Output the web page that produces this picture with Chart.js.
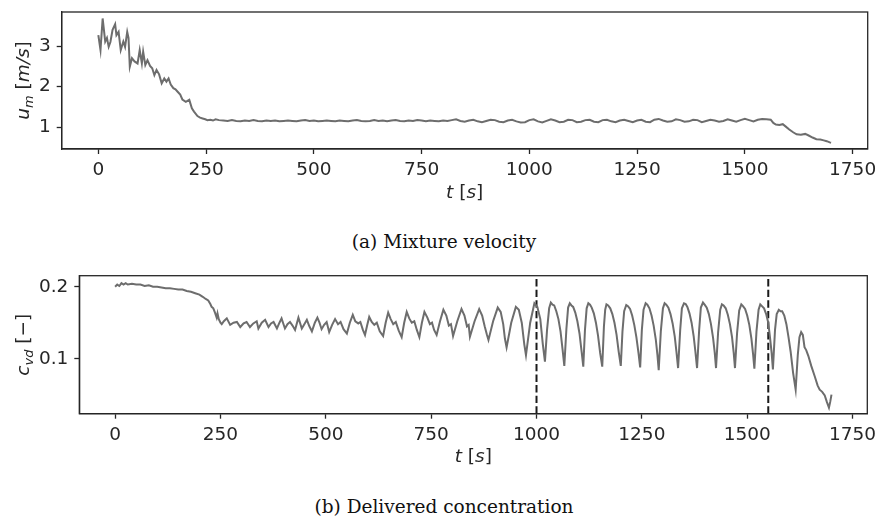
<!DOCTYPE html>
<html>
<head>
<meta charset="utf-8">
<script src="https://cdn.jsdelivr.net/npm/chart.js@4.4.0/dist/chart.umd.min.js"></script>
<style>
body{margin:0;background:#fff;width:877px;height:520px;position:relative;overflow:hidden}
.wrap{position:absolute;left:0;width:877px}
#wrapA{top:0;height:215px}
#wrapB{top:258px;height:215px}
.cap{position:absolute;font-family:"DejaVu Serif",serif;font-size:18.5px;line-height:22px;color:#111;white-space:nowrap;transform:translateX(-50%)}
</style>
</head>
<body>
<div class="wrap" id="wrapA"><canvas id="velChart"></canvas></div>
<div class="cap" style="left:444px;top:231px">(a) Mixture velocity</div>
<div class="wrap" id="wrapB"><canvas id="concChart"></canvas></div>
<div class="cap" style="left:444px;top:496px">(b) Delivered concentration</div>
<script>
// mixture velocity u_m [m/s] vs time t [s]
const tU=[0,5,10,16,20,24,28,33,39,42,47,52,58,62,67,70,73,78,84,91,96,101,104,109,114,120,125,130,135,141,147,153,158,163,168,174,179,184,190,195,203,211,217,222,230,236,242,248,253,260,266,272,280,
290,300,310,320,330,340,350,360,370,380,390,400,410,420,430,440,450,460,470,480,490,500,510,520,530,540,550,560,570,580,590,600,610,620,630,640,650,660,670,680,690,700,710,720,730,740,750,760,770,780,790,
800,810,820,830,840,850,860,870,880,890,900,910,920,930,940,950,960,970,980,990,1000,1010,1020,1030,1040,1050,1060,1070,1080,1090,1100,1110,1120,1130,1140,1150,1160,1170,1180,1190,1200,1210,1220,1230,1240,1250,1260,1270,1280,1290,1300,1310,1320,1330,1340,1350,1360,1370,1380,1390,1400,1410,1420,1430,1440,1450,1460,1470,1480,1490,1500,1510,1520,1530,1540,1550,1560,
1566,1572,1580,1588,1595,1603,1612,1620,1630,1640,1648,1657,1666,1675,1683,1690,1697,1700];
const uM=[3.27,2.90,3.68,3.11,3.20,2.98,3.10,3.40,3.54,3.27,3.35,2.90,3.11,2.98,3.35,3.20,2.49,2.70,2.62,2.57,2.90,2.57,2.86,2.53,2.65,2.51,2.45,2.28,2.41,2.30,2.08,2.20,2.12,2.20,2.05,1.96,1.93,1.87,1.80,1.68,1.62,1.67,1.46,1.38,1.27,1.23,1.21,1.19,1.17,1.18,1.16,1.19,1.17,
1.16,1.15,1.17,1.15,1.14,1.16,1.15,1.17,1.15,1.14,1.16,1.15,1.16,1.14,1.15,1.16,1.15,1.14,1.16,1.17,1.15,1.16,1.14,1.15,1.16,1.15,1.14,1.16,1.15,1.14,1.16,1.17,1.15,1.14,1.15,1.17,1.15,1.16,1.14,1.16,1.17,1.15,1.14,1.16,1.15,1.17,1.16,1.14,1.16,1.15,1.14,
1.16,1.15,1.17,1.19,1.15,1.13,1.16,1.18,1.14,1.12,1.15,1.18,1.17,1.13,1.12,1.16,1.18,1.14,1.11,1.12,1.17,1.19,1.14,1.11,1.15,1.19,1.16,1.12,1.13,1.18,1.17,1.12,1.13,1.17,1.18,1.13,1.12,1.17,1.18,1.14,1.12,1.16,1.18,1.15,1.12,1.16,1.18,1.13,1.12,1.18,1.20,1.16,1.13,1.14,1.19,1.17,1.13,1.14,1.18,1.17,1.12,1.15,1.18,1.16,1.13,1.15,1.19,1.16,1.13,1.17,1.20,1.17,1.14,1.18,1.20,1.19,1.18,
1.10,1.06,1.05,1.07,1.01,0.94,0.87,0.82,0.81,0.83,0.79,0.74,0.70,0.69,0.67,0.65,0.62,0.61];

// delivered concentration c_vd [-] vs time t [s]
const tC=[0,5,10,15,20,25,30,40,50,60,70,80,90,100,110,120,130,140,150,160,170,180,190,200,208,215,221,226,229,233,237,241,243,246,250,253,258,265,273,281,289,297,305,312,320,328,336,340,348,356,364,370,376,384,390,395,403,409,415,421,427,435,443,449,455,461,467,474,480,485,490,496,502,
508,515,522,529,535,542,550,557,564,570,577,582,588,593,598,603,609,615,621,628,636,642,648,654,660,666,673,680,686,692,698,704,710,716,722,728,734,741,747,752,757,763,771,779,786,792,797,802,812,822,829,835,839,842,853,864,871,877,882,886,897,908,915,921,925,929,940,951,958,965,971,975,985,995,1002,1009,1015,
1020,1025,1030,1034,1038,1042,1047,1052,1057,1062,1066,1071,1075,1079,1083,1087,1092,1097,1102,1107,1111,1115,1119,1123,1127,1131,1136,1141,1146,1151,1156,1160,1163,1166,1170,1175,1180,1185,1190,1195,1200,1204,1208,1213,1217,1222,1227,1232,1237,1242,1246,1250,1254,1259,1263,1268,1273,1278,1283,1287,1290,1295,1300,1304,1308,1313,1318,1323,1328,1332,1336,1341,1345,1350,1354,1358,1363,1368,1373,1377,1381,1386,1390,1395,1399,1404,1409,1414,1419,1423,1426,1431,1436,1440,1444,1449,1454,1459,1464,1468,1471,1476,1481,1486,1490,1495,1500,1505,1510,1514,1517,1522,1527,1531,1535,1540,1545,1550,1554,1558,1561,1566,1570,1575,1579,1583,1588,1593,1598,1603,1609,1615,
1620,1624,1628,1632,1636,1640,1645,1652,1660,1667,1672,1678,1684,1689,1694,1697,1700];
const cVd=[0.200,0.203,0.201,0.205,0.203,0.205,0.203,0.204,0.203,0.203,0.201,0.202,0.200,0.200,0.199,0.198,0.198,0.197,0.196,0.196,0.194,0.193,0.191,0.189,0.186,0.183,0.181,0.176,0.172,0.170,0.164,0.157,0.163,0.155,0.150,0.148,0.152,0.156,0.147,0.150,0.151,0.144,0.149,0.151,0.144,0.149,0.152,0.142,0.150,0.154,0.144,0.149,0.151,0.142,0.150,0.156,0.142,0.148,0.151,0.146,0.140,0.157,0.142,0.148,0.154,0.145,0.138,0.150,0.157,0.150,0.141,0.147,0.151,
0.137,0.147,0.155,0.148,0.151,0.141,0.135,0.150,0.161,0.152,0.149,0.151,0.140,0.133,0.146,0.158,0.151,0.147,0.150,0.138,0.1315,0.150,0.164,0.155,0.148,0.151,0.139,0.130,0.150,0.165,0.156,0.150,0.152,0.140,0.130,0.150,0.165,0.157,0.148,0.150,0.140,0.133,0.152,0.168,0.160,0.146,0.148,0.1315,0.152,0.169,0.160,0.145,0.147,0.1306,0.152,0.169,0.160,0.145,0.134,0.126,0.152,0.171,0.165,0.148,0.128,0.1158,0.150,0.172,0.168,0.150,0.120,0.105,0.150,0.177,0.172,0.155,0.120,
0.096,0.140,0.170,0.178,0.175,0.174,0.166,0.155,0.138,0.112,0.090,0.142,0.171,0.177,0.174,0.172,0.164,0.152,0.135,0.110,0.089,0.140,0.170,0.177,0.175,0.171,0.163,0.150,0.132,0.108,0.089,0.145,0.168,0.1755,0.174,0.170,0.162,0.150,0.133,0.110,0.090,0.138,0.166,0.1746,0.173,0.169,0.160,0.147,0.130,0.108,0.088,0.140,0.168,0.177,0.175,0.170,0.160,0.146,0.127,0.105,0.084,0.138,0.170,0.177,0.175,0.171,0.162,0.149,0.131,0.110,0.087,0.140,0.170,0.177,0.176,0.172,0.163,0.150,0.131,0.110,0.087,0.140,0.171,0.178,0.175,0.171,0.162,0.148,0.129,0.108,0.087,0.137,0.168,0.1755,0.174,0.170,0.161,0.148,0.130,0.108,0.087,0.136,0.167,0.1755,0.173,0.169,0.160,0.147,0.128,0.106,0.086,0.138,0.168,0.1755,0.173,0.170,0.162,0.150,0.130,0.108,0.085,0.140,0.162,0.168,0.166,0.166,0.160,0.148,0.130,0.110,0.080,0.057,
0.105,0.130,0.137,0.133,0.116,0.112,0.104,0.090,0.076,0.063,0.057,0.054,0.049,0.040,0.032,0.040,0.050];

const xTicks=[0,250,500,750,1000,1250,1500,1750];
const uTicks=[1,2,3];
const cTicks=[0.1,0.2];
const dashTimes=[1000,1550];

const lineColor='#6d6d6d';
const inkColor='#262626';
const tickFont={family:'"DejaVu Sans", sans-serif',size:18.5};

function pairs(xs,ys){return xs.map((x,i)=>({x:x,y:ys[i]}));}

// draw math-like label pieces: [text, italic, subscript]
function drawPieces(ctx,pieces,size){
  const fonts=pieces.map(p=>(p[1]?'italic ':'')+(p[2]?size*0.7:size)+'px "DejaVu Sans"');
  let w=0;
  pieces.forEach((p,i)=>{ctx.font=fonts[i];w+=ctx.measureText(p[0]).width;});
  let x=-w/2;
  ctx.textBaseline='alphabetic';
  pieces.forEach((p,i)=>{
    ctx.font=fonts[i];
    ctx.fillText(p[0],x,p[2]?size*0.58:size*0.36);
    x+=ctx.measureText(p[0]).width;
  });
}

function axisTitles(yPieces,xOffset,yTitleX){
  return {
    id:'axisTitles',
    afterDraw(chart){
      const ctx=chart.ctx, a=chart.chartArea;
      ctx.save();
      ctx.strokeStyle=inkColor;
      ctx.lineWidth=1.3;
      ctx.strokeRect(a.left,a.top,a.right-a.left,a.bottom-a.top);
      ctx.fillStyle=inkColor;
      ctx.save();
      ctx.translate((a.left+a.right)/2,a.bottom+xOffset);
      drawPieces(ctx,[['t',true,false],[' [',false,false],['s',true,false],[']',false,false]],18.5);
      ctx.restore();
      ctx.save();
      ctx.translate(yTitleX,(a.top+a.bottom)/2);
      ctx.rotate(-Math.PI/2);
      drawPieces(ctx,yPieces,18.5);
      ctx.restore();
      ctx.restore();
    }
  };
}

function makeChart(id,xs,ys,yMin,yMax,yTicks,yWidth,xHeight,pad,yPieces,withDashes){
  const datasets=[{data:pairs(xs,ys),borderColor:lineColor,borderWidth:2,pointRadius:0,tension:0}];
  if(withDashes){
    dashTimes.forEach(t=>{
      datasets.push({data:[{x:t,y:yMin},{x:t,y:yMax}],borderColor:'#1a1a1a',borderWidth:2,borderDash:[7.4,3.2],pointRadius:0});
    });
  }
  return new Chart(document.getElementById(id),{
    type:'line',
    data:{datasets:datasets},
    options:{
      responsive:true,
      maintainAspectRatio:false,
      animation:false,
      layout:{padding:pad},
      plugins:{legend:{display:false},tooltip:{enabled:false}},
      scales:{
        x:{
          type:'linear',min:-85,max:1785,
          afterBuildTicks:s=>{s.ticks=xTicks.map(v=>({value:v}));},
          afterFit:s=>{s.height=xHeight;s.paddingLeft=0;s.paddingRight=0;},
          ticks:{font:tickFont,color:inkColor,padding:5,maxRotation:0,callback:v=>String(v)},
          grid:{drawOnChartArea:false,drawTicks:true,tickLength:5,tickColor:inkColor,tickWidth:1.3},
          border:{display:true,color:inkColor,width:1.3}
        },
        y:{
          type:'linear',min:yMin,max:yMax,
          afterBuildTicks:s=>{s.ticks=yTicks.map(v=>({value:v}));},
          afterFit:s=>{s.width=yWidth;s.paddingTop=0;s.paddingBottom=0;},
          ticks:{font:tickFont,color:inkColor,padding:6,callback:v=>String(v)},
          grid:{drawOnChartArea:false,drawTicks:true,tickLength:5,tickColor:inkColor,tickWidth:1.3},
          border:{display:true,color:inkColor,width:1.3}
        }
      }
    },
    plugins:[axisTitles(yPieces,42,22)]
  });
}

makeChart('velChart',tU,uM,0.457,3.84,uTicks,61.7,66,{left:0,right:9.3,top:12,bottom:0},
  [['u',true,false],['m',true,true],[' [',false,false],['m/s',true,false],[']',false,false]],false);
makeChart('concChart',tC,cVd,0.0236,0.2153,cTicks,79.3,59.3,{left:0,right:9.7,top:17.7,bottom:0},
  [['c',true,false],['vd',true,true],[' [',false,false],['\u2212',false,false],[']',false,false]],true);
</script>
</body>
</html>
